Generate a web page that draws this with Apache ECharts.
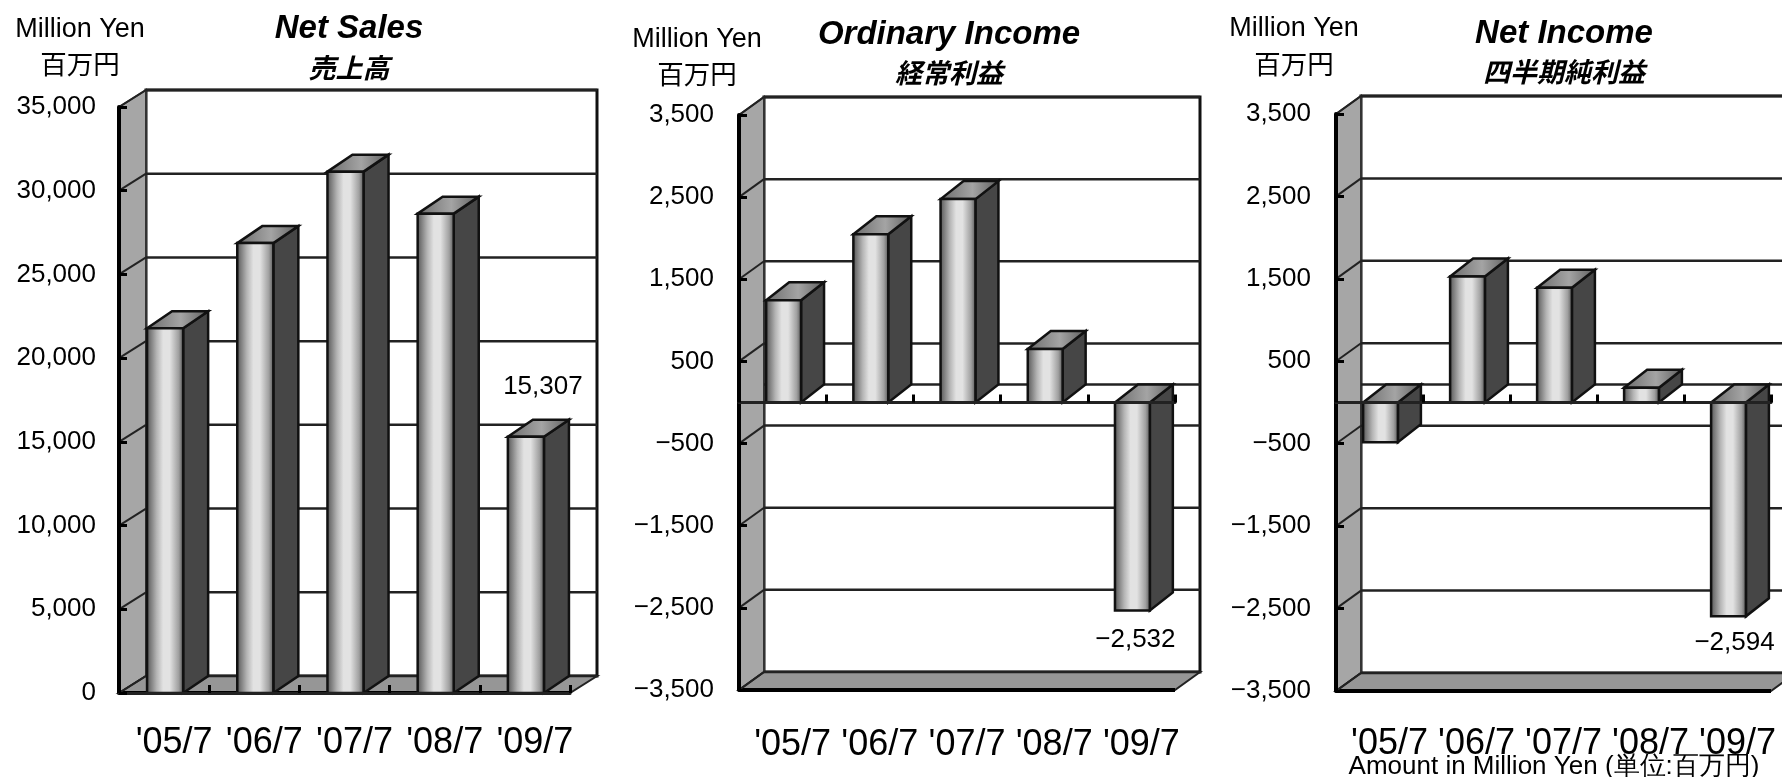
<!DOCTYPE html>
<html>
<head>
<meta charset="utf-8">
<title>Net Sales / Ordinary Income / Net Income</title>
<script src="https://cdn.jsdelivr.net/npm/echarts@6/dist/echarts.min.js"></script>
<style>
  html, body { margin: 0; padding: 0; background: #fff; }
  #main { width: 1782px; height: 777px; }
</style>
</head>
<body>
<div id="main"></div>
<script>
const categories = ["'05/7", "'06/7", "'07/7", "'08/7", "'09/7"]
const salesValues = [21780, 26870, 31140, 28630, 15307]
const ordinaryValues = [1245, 2047, 2476, 650, -2532]
const netValues = [-482, 1529, 1391, 179, -2594]
const salesTicks = [0, 5000, 10000, 15000, 20000, 25000, 30000, 35000]
const incomeTicks = [-3500, -2500, -1500, -500, 500, 1500, 2500, 3500]
// 0円の奥の線は目盛りには出ないが奥の壁には引く
const incomeBackLines = [-3500, -2500, -1500, -500, 0, 500, 1500, 2500, 3500]
const labelledIndex = 4

const SANS = '"Liberation Sans", sans-serif'
const CJK = '"Noto Sans CJK JP", sans-serif'

const panels = [
  {
    values: salesValues, ticks: salesTicks, backLines: salesTicks, min: 0, max: 35000, interval: 5000,
    left: 119, top: 107, width: 451, height: 586, dx: 27, dy: 17,
    labelMargin: 32, tickMargin: 23, valueLabel: [18, -50]
  },
  {
    values: ordinaryValues, ticks: incomeTicks, backLines: incomeBackLines, min: -3500, max: 3500, interval: 500,
    left: 739, top: 115, width: 436, height: 575, dx: 25, dy: 18,
    labelMargin: 37, tickMargin: 25, valueLabel: [4, 29]
  },
  {
    values: netValues, ticks: incomeTicks, backLines: incomeBackLines, min: -3500, max: 3500, interval: 500,
    left: 1336, top: 114, width: 435, height: 577, dx: 25, dy: 18,
    labelMargin: 35, tickMargin: 25, valueLabel: [7, 27]
  }
]

// 左上の単位、タイトル、右下の注記
const texts = [
  ['Million Yen', 80, 30, '27px ' + SANS],
  ['百万円', 80, 64, '26.5px ' + CJK],
  ['Net Sales', 349, 29, 'italic bold 33px ' + SANS],
  ['売上高', 349, 68, 'italic bold 27px ' + CJK],
  ['Million Yen', 697, 40, '27px ' + SANS],
  ['百万円', 697, 74, '26.5px ' + CJK],
  ['Ordinary Income', 949, 35, 'italic bold 33px ' + SANS],
  ['経常利益', 949, 73, 'italic bold 27px ' + CJK],
  ['Million Yen', 1294, 29, '27px ' + SANS],
  ['百万円', 1294, 64, '26.5px ' + CJK],
  ['Net Income', 1564, 34, 'italic bold 33px ' + SANS],
  ['四半期純利益', 1564, 72, 'italic bold 27px ' + CJK],
  ['Amount in Million Yen (単位:百万円)', 1554, 767, '26px ' + SANS]
]

function formatValue(v) {
  return v.toLocaleString('en-US').replace('-', '−')
}

function poly(points, fill, stroke, lineWidth) {
  return { type: 'polygon', shape: { points: points }, style: { fill: fill, stroke: stroke, lineWidth: lineWidth } }
}

function renderWalls(panel) {
  return function (params) {
    const c = params.coordSys
    const r = c.x + c.width
    const b = c.y + c.height
    const d = panel.dx
    const e = panel.dy
    return {
      type: 'group',
      children: [
        poly([[c.x + d, c.y - e], [r + d, c.y - e], [r + d, b - e], [c.x + d, b - e]], '#fff', '#111', 3),
        poly([[c.x, c.y], [c.x + d, c.y - e], [c.x + d, b - e], [c.x, b]], '#a6a6a6', '#333', 2),
        poly([[c.x, b], [c.x + d, b - e], [r + d, b - e], [r, b]], '#969696', '#222', 2),
        { type: 'line', shape: { x1: c.x, y1: b, x2: r, y2: b }, style: { stroke: '#000', lineWidth: 4 } }
      ]
    }
  }
}

function renderBackLine(panel) {
  return function (params, api) {
    const c = params.coordSys
    const v = api.value(1)
    const y = api.coord([0, v])[1]
    const d = panel.dx
    const e = panel.dy
    const children = [
      { type: 'line', shape: { x1: c.x + d, y1: y - e, x2: c.x + c.width + d, y2: y - e }, style: { stroke: '#222', lineWidth: 2.5 } }
    ]
    if (panel.ticks.indexOf(v) >= 0) {
      children.push({ type: 'line', shape: { x1: c.x, y1: y, x2: c.x + d, y2: y - e }, style: { stroke: '#222', lineWidth: 2 } })
    }
    return { type: 'group', children: children }
  }
}

function renderBar(panel) {
  return function (params, api) {
    const i = api.value(0)
    const v = api.value(1)
    const band = api.size([1, 0])[0]
    const w = band * 0.4
    const base = api.coord([i, 0])
    const end = api.coord([i, v])
    const x1 = base[0] - w / 2 + 1
    const x2 = x1 + w
    const top = Math.min(base[1], end[1])
    const bottom = Math.max(base[1], end[1])
    const d = panel.dx - 2
    const e = panel.dy
    const children = [
      poly([[x2, top], [x2 + d, top - e], [x2 + d, bottom - e], [x2, bottom]], '#464646', '#111', 2.5),
      poly([[x1, top], [x1 + d, top - e], [x2 + d, top - e], [x2, top]],
        new echarts.graphic.LinearGradient(0, 0, 1, 0, [
          { offset: 0, color: '#6a6a6a' },
          { offset: 0.55, color: '#a4a4a4' },
          { offset: 1, color: '#5c5c5c' }
        ]), '#111', 2.5),
      {
        type: 'rect',
        shape: { x: x1, y: top, width: w, height: bottom - top },
        style: {
          fill: new echarts.graphic.LinearGradient(0, 0, 1, 0, [
            { offset: 0, color: '#4e4e4e' },
            { offset: 0.28, color: '#b4b4b4' },
            { offset: 0.45, color: '#e2e2e2' },
            { offset: 0.62, color: '#e2e2e2' },
            { offset: 0.85, color: '#a0a0a0' },
            { offset: 1, color: '#4a4a4a' }
          ]),
          stroke: '#111',
          lineWidth: 2.5
        }
      }
    ]
    if (i === labelledIndex) {
      children.push({
        type: 'text',
        style: {
          text: formatValue(v),
          x: base[0] + panel.valueLabel[0],
          y: (v < 0 ? bottom : top) + panel.valueLabel[1],
          font: '26px ' + SANS,
          fill: '#000',
          align: 'center',
          verticalAlign: 'middle'
        }
      })
    }
    return { type: 'group', children: children }
  }
}

const grid = []
const xAxis = []
const yAxis = []
const series = []

panels.forEach(function (p, n) {
  grid.push({ left: p.left, top: p.top, width: p.width, height: p.height })
  // 目盛りの文字は一番下、軸線と目盛りは0の位置
  xAxis.push({
    type: 'category', gridIndex: n, data: categories, position: 'bottom',
    axisLine: { show: false, onZero: false },
    axisTick: { show: false },
    axisLabel: {
      margin: p.labelMargin, interval: 0, color: '#000', padding: [0, 0, 0, 20],
      fontFamily: SANS, fontSize: 36
    }
  })
  xAxis.push({
    type: 'category', gridIndex: n, data: categories, position: 'bottom', z: 10,
    axisLine: { show: true, onZero: true, lineStyle: { color: '#222', width: 3 } },
    axisTick: { show: true, inside: true, length: 8, lineStyle: { color: '#000', width: 3 } },
    axisLabel: { show: false }
  })
  yAxis.push({
    type: 'value', gridIndex: n, min: p.min, max: p.max, interval: p.interval, z: 10,
    splitLine: { show: false },
    axisLine: { show: true, onZero: false, lineStyle: { color: '#000', width: 4 } },
    axisTick: { show: true, inside: true, length: 8, customValues: p.ticks, lineStyle: { color: '#000', width: 3 } },
    axisLabel: {
      margin: p.tickMargin, color: '#000', fontFamily: SANS, fontSize: 26, padding: [9, 0, 0, 0],
      customValues: p.ticks,
      formatter: formatValue
    }
  })
  const axes = { xAxisIndex: n * 2, yAxisIndex: n }
  series.push(Object.assign({ type: 'custom', z: 1, silent: true, renderItem: renderWalls(p), data: [[0, p.min]] }, axes))
  series.push(Object.assign({ type: 'custom', z: 2, silent: true, renderItem: renderBackLine(p), data: p.backLines.map(function (t) { return [0, t] }) }, axes))
  series.push(Object.assign({ type: 'custom', z: 3, silent: true, renderItem: renderBar(p), data: p.values.map(function (v, i) { return [i, v] }) }, axes))
})

const chart = echarts.init(document.getElementById('main'), null, { renderer: 'canvas' })
chart.setOption({
  animation: false,
  backgroundColor: '#fff',
  grid: grid,
  xAxis: xAxis,
  yAxis: yAxis,
  series: series,
  graphic: texts.map(function (t) {
    return {
      type: 'text', silent: true,
      style: { text: t[0], x: t[1], y: t[2], font: t[3], fill: '#000', align: 'center', verticalAlign: 'middle' }
    }
  })
})
</script>
</body>
</html>
